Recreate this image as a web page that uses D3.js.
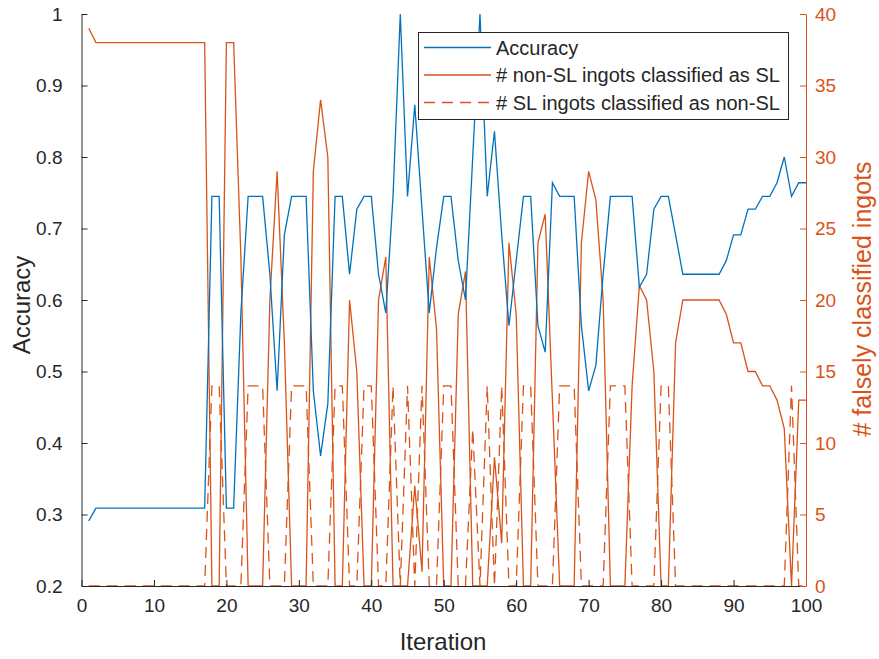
<!DOCTYPE html>
<head>
  <meta http-equiv="Content-Type" content="text/html; charset=utf-8">
  <style>
    body { margin: 0; background: #fff; }
    text { font-family: "Liberation Sans", Arial, Helvetica, sans-serif; }
  </style>
</head>
<body></body>
<script src="https://d3js.org/d3.v7.min.js"></script>
<script>

var width = 879,
    height = 659;

// Inputs
var iterations = d3.range(1, 101);

var accuracy = [0.291, 0.309, 0.309, 0.309, 0.309, 0.309, 0.309, 0.309, 0.309, 0.309,
                0.309, 0.309, 0.309, 0.309, 0.309, 0.309, 0.309, 0.745, 0.745, 0.309,
                0.309, 0.582, 0.745, 0.745, 0.745, 0.636, 0.473, 0.691, 0.745, 0.745,
                0.745, 0.473, 0.382, 0.455, 0.745, 0.745, 0.636, 0.727, 0.745, 0.745,
                0.636, 0.582, 0.745, 1.000, 0.745, 0.873, 0.727, 0.582, 0.673, 0.745,
                0.745, 0.655, 0.600, 0.800, 1.000, 0.745, 0.836, 0.691, 0.564, 0.655,
                0.745, 0.745, 0.564, 0.527, 0.764, 0.745, 0.745, 0.745, 0.564, 0.473,
                0.509, 0.636, 0.745, 0.745, 0.745, 0.745, 0.618, 0.636, 0.727, 0.745,
                0.745, 0.691, 0.636, 0.636, 0.636, 0.636, 0.636, 0.636, 0.655, 0.691,
                0.691, 0.727, 0.727, 0.745, 0.745, 0.764, 0.800, 0.745, 0.764, 0.764];

// # non-SL ingots classified as SL
var falsePos = [39, 38, 38, 38, 38, 38, 38, 38, 38, 38,
                38, 38, 38, 38, 38, 38, 38,  0,  0, 38,
                38, 23,  0,  0,  0, 20, 29, 17,  0,  0,
                 0, 29, 34, 30,  0,  0, 20, 15,  0,  0,
                20, 23,  0,  0,  0,  7,  1, 23, 18,  0,
                 0, 19, 22,  0,  0,  0,  9,  3, 24, 19,
                 0,  0, 24, 26, 13,  0,  0,  0, 24, 29,
                27, 20,  0,  0,  0, 14, 21, 20, 15,  0,
                 0, 17, 20, 20, 20, 20, 20, 20, 19, 17,
                17, 15, 15, 14, 14, 13, 11,  0, 13, 13];

// # SL ingots classified as non-SL
var falseNeg = [ 0,  0,  0,  0,  0,  0,  0,  0,  0,  0,
                 0,  0,  0,  0,  0,  0,  0, 14, 14,  0,
                 0,  0, 14, 14, 14,  0,  0,  0, 14, 14,
                14,  0,  0,  0, 14, 14,  0,  0, 14, 14,
                 0,  0, 14,  0, 14,  0, 14,  0,  0, 14,
                14,  0,  0, 11,  0, 14,  0, 14,  0,  0,
                14, 14,  0,  0,  0, 14, 14, 14,  0,  0,
                 0,  0, 14, 14, 14,  0,  0,  0,  0, 14,
                14,  0,  0,  0,  0,  0,  0,  0,  0,  0,
                 0,  0,  0,  0,  0,  0,  0, 14,  0,  0];

var xTicks = d3.range(0, 101, 10),
    yLeftTicks = [0.2, 0.3, 0.4, 0.5, 0.6, 0.7, 0.8, 0.9, 1],
    yRightTicks = [0, 5, 10, 15, 20, 25, 30, 35, 40];

var legendLabels = ["Accuracy", "# non-SL ingots classified as SL", "# SL ingots classified as non-SL"];

var blue = "#0072BD",
    orange = "#D95319",
    dark = "#262626";

var xs = d3.scaleLinear().domain([0, 100]).range([81.5, 806]);
var ysL = d3.scaleLinear().domain([0.2, 1]).range([586, 14]);
var ysR = d3.scaleLinear().domain([0, 40]).range([586, 14]);

var svg = d3.select("body").append("svg")
    .attr("width", width)
    .attr("height", height);

// lines
var lineAcc = d3.line()
    .x(function(d, i){ return xs(iterations[i]); })
    .y(function(d){ return ysL(d); });
var lineCount = d3.line()
    .x(function(d, i){ return xs(iterations[i]); })
    .y(function(d){ return ysR(d); });

svg.append("path")
    .attr("d", lineCount(falseNeg))
    .attr("fill", "none")
    .attr("stroke", orange)
    .attr("stroke-width", 1.3)
    .attr("stroke-dasharray", "11,7");
svg.append("path")
    .attr("d", lineCount(falsePos))
    .attr("fill", "none")
    .attr("stroke", orange)
    .attr("stroke-width", 1.3);
svg.append("path")
    .attr("d", lineAcc(accuracy))
    .attr("fill", "none")
    .attr("stroke", blue)
    .attr("stroke-width", 1.3);

// axes
var xAxis = svg.append("g")
    .attr("transform", "translate(0,586)")
    .call(d3.axisBottom(xs).tickValues(xTicks).tickSize(-6).tickSizeOuter(0).tickPadding(13));
var yAxisL = svg.append("g")
    .attr("transform", "translate(81.5,0)")
    .call(d3.axisLeft(ysL).tickValues(yLeftTicks).tickFormat(d3.format("")).tickSize(-6).tickSizeOuter(0).tickPadding(19));
var yAxisR = svg.append("g")
    .attr("transform", "translate(806,0)")
    .call(d3.axisRight(ysR).tickValues(yRightTicks).tickSize(-6).tickSizeOuter(0).tickPadding(9));

[xAxis, yAxisL].forEach(function(g){
  g.selectAll("path, line").attr("stroke", dark);
  g.selectAll("text").attr("fill", dark).style("font-size", "19px");
});
yAxisR.selectAll("path, line").attr("stroke", orange);
yAxisR.selectAll("text").attr("fill", orange).style("font-size", "19px");

// axis labels
svg.append("text")
    .attr("x", 443)
    .attr("y", 650)
    .attr("text-anchor", "middle")
    .attr("fill", dark)
    .style("font-size", "24px")
    .text("Iteration");
svg.append("text")
    .attr("transform", "translate(30,305) rotate(-90)")
    .attr("text-anchor", "middle")
    .attr("fill", dark)
    .style("font-size", "24px")
    .text("Accuracy");
svg.append("text")
    .attr("transform", "translate(871,299) rotate(-90)")
    .attr("text-anchor", "middle")
    .attr("fill", orange)
    .style("font-size", "25px")
    .text("# falsely classified ingots");

// legend
var legend = svg.append("g");
legend.append("rect")
    .attr("x", 418.5)
    .attr("y", 32.5)
    .attr("width", 370)
    .attr("height", 87)
    .attr("fill", "#fff")
    .attr("stroke", dark)
    .attr("stroke-width", 1);

var legendStyles = [{c: blue, dash: null}, {c: orange, dash: null}, {c: orange, dash: "11,7"}];
var legendRows = [47.5, 75, 102.5];

legend.selectAll(".legline")
    .data(legendLabels)
    .enter()
    .append("line")
    .attr("class", "legline")
    .attr("x1", 424)
    .attr("x2", 491)
    .attr("y1", function(d, i){ return legendRows[i]; })
    .attr("y2", function(d, i){ return legendRows[i]; })
    .attr("stroke", function(d, i){ return legendStyles[i].c; })
    .attr("stroke-width", 1.3)
    .attr("stroke-dasharray", function(d, i){ return legendStyles[i].dash; });

legend.selectAll(".legtext")
    .data(legendLabels)
    .enter()
    .append("text")
    .attr("class", "legtext")
    .attr("x", 496)
    .attr("y", function(d, i){ return legendRows[i] + 7; })
    .attr("fill", dark)
    .style("font-size", "20px")
    .text(function(d){ return d; });

</script>
</html>
